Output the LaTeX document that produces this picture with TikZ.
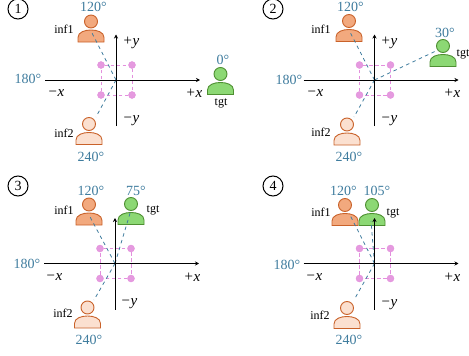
\documentclass[tikz,border=0pt]{standalone}
\usepackage{fontspec}
\setmainfont{Liberation Serif}
\usetikzlibrary{arrows.meta}
\definecolor{angc}{HTML}{3F7C9E}
\definecolor{infa}{HTML}{F2A97E}
\definecolor{infb}{HTML}{FBE0D0}
\definecolor{infs}{HTML}{C9622A}
\definecolor{tgtf}{HTML}{8CD874}
\definecolor{tgts}{HTML}{4E8F32}
\definecolor{magf}{HTML}{E59ADF}
\definecolor{magd}{HTML}{E38FDD}
\tikzset{
  x=1pt,y=-1pt,
  ang/.style={text=angc,font=\fontsize{14}{14}\selectfont,inner sep=0pt},
  lab/.style={text=black,font=\fontsize{12}{12}\selectfont,inner sep=0pt},
  axl/.style={text=black,font=\fontsize{15}{15}\selectfont\itshape,inner sep=0pt},
  axis/.style={draw=black,line width=1pt,-{Stealth[length=4pt,width=4pt]}},
  conn/.style={draw=angc,line width=0.8pt,dash pattern=on 3.5pt off 3.5pt},
  sq/.style={draw=magd,line width=0.8pt,dash pattern=on 3.5pt off 2.5pt},
  dotn/.style={circle,fill=magf,draw=magd,line width=0.4pt,minimum size=7pt,inner sep=0pt},
  numb/.style={circle,draw=black,line width=1pt,minimum size=20pt,inner sep=0pt,font=\fontsize{14}{14}\selectfont},
}
% #1 name, #2 cx, #3 head cy, #4 fill, #5 stroke
\newcommand{\psn}[5]{%
  \draw[fill=#4,draw=#5,line width=0.9pt]
    ({#2-13},{#3+20.5}) -- ({#2-13},{#3+16}) .. controls ({#2-13},{#3+10.5}) and ({#2-6},{#3+8.5}) .. ({#2},{#3+8.5})
    .. controls ({#2+6},{#3+8.5}) and ({#2+13},{#3+10.5}) .. ({#2+13},{#3+16}) -- ({#2+13},{#3+20.5}) -- cycle;
  \node[circle,fill=#4,draw=#5,line width=0.9pt,minimum size=13pt,inner sep=0pt] (#1) at (#2,#3) {};
}
% #1 prefix, #2 ox, #3 oy
\newcommand{\axes}[4]{%
  \coordinate (#1o) at (#2,#3);
  \coordinate (#1xa) at ({#2-71},#3); \coordinate (#1xb) at ({#2+84},#3);
  \coordinate (#1ya) at (#2,{#3+46}); \coordinate (#1yb) at (#2,{#3-45.5});
  \node[dotn] (#1d1) at ({#2-15},{#3-15}) {};
  \node[dotn] (#1d2) at ({#2+16},{#3-15}) {};
  \node[dotn] (#1d3) at ({#2-15},{#3+15}) {};
  \node[dotn] (#1d4) at ({#2+16},{#3+15}) {};
  \draw[sq] (#1d1) -- (#1d2); \draw[sq] (#1d2) -- (#1d4);
  \draw[sq] (#1d4) -- (#1d3); \draw[sq] (#1d3) -- (#1d1);
}
\newcommand{\axl}[3]{\draw[axis] (#1xa) -- (#1xb); \draw[axis] (#1ya) -- (#1yb);}
\begin{document}
\begin{tikzpicture}
\useasboundingbox (0,0) rectangle (469,356);
% Panel 1
\node[numb] (n1) at (18,9) {1};
\axes{a}{116}{80}{}
\psn{ai}{91}{21.5}{infa}{infs}
\psn{aj}{89}{124}{infb}{infs}
\psn{at}{220.5}{74}{tgtf}{tgts}
\coordinate (aie) at (91,31); \coordinate (aje) at (96,117);
\draw[conn] (ao) -- (aie); \draw[conn] (ao) -- (aje);
\axl{a}{}{}
\node[ang] (a120) at (93.5,7) {120°};
\node[ang] (a180) at (28,79) {180°};
\node[ang] (a0) at (223,60) {0°};
\node[ang] (a240) at (91,157) {240°};
\node[lab] (al1) at (64,29) {inf1};
\node[lab] (al2) at (64,133) {inf2};
\node[lab] (al3) at (221,103) {tgt};
\node[axl] (apy) at (131,43) {+y};
\node[axl] (amy) at (131,121) {−y};
\node[axl] (amx) at (56,93) {−x};
\node[axl] (apx) at (194,93) {+x};
% Panel 2
\node[numb] (n2) at (273,9) {2};
\axes{b}{374.5}{80}{}
\psn{bi}{349}{21}{infa}{infs}
\psn{bj}{347}{124.5}{infb}{infs}
\psn{bt}{443}{46}{tgtf}{tgts}
\coordinate (bie) at (350,32); \coordinate (bje) at (354,117); \coordinate (bte) at (438,50);
\draw[conn] (bo) -- (bie); \draw[conn] (bo) -- (bje); \draw[conn] (bo) -- (bte);
\axl{b}{}{}
\node[ang] (b120) at (350.5,7) {120°};
\node[ang] (b180) at (289,80) {180°};
\node[ang] (b30) at (445,33) {30°};
\node[ang] (b240) at (349,157) {240°};
\node[lab] (bl1) at (321,29) {inf1};
\node[lab] (bl2) at (321,132) {inf2};
\node[lab] (bl3) at (463,54) {tgt};
\node[axl] (bpy) at (389,43) {+y};
\node[axl] (bmy) at (389,121) {−y};
\node[axl] (bmx) at (315,93) {−x};
\node[axl] (bpx) at (452,93) {+x};
% Panel 3
\node[numb] (n3) at (18,186) {3};
\axes{c}{115}{263.5}{}
\psn{ci}{89}{204.5}{infa}{infs}
\psn{cj}{87.5}{307.5}{infb}{infs}
\psn{ct}{131}{204}{tgtf}{tgts}
\coordinate (cie) at (89,215); \coordinate (cje) at (94,300); \coordinate (cte) at (131,210);
\draw[conn] (co) -- (cie); \draw[conn] (co) -- (cje); \draw[conn] (co) -- (cte);
\axl{c}{}{}
\node[ang] (c120) at (91,191) {120°};
\node[ang] (c75) at (136,191) {75°};
\node[ang] (c180) at (27,264) {180°};
\node[ang] (c240) at (89,340) {240°};
\node[lab] (cl1) at (64,210) {inf1};
\node[lab] (cl2) at (63,313) {inf2};
\node[lab] (cl3) at (153,210) {tgt};
\node[axl] (cmy) at (129,304) {−y};
\node[axl] (cmx) at (54,277) {−x};
\node[axl] (cpx) at (192,277) {+x};
% Panel 4
\node[numb] (n4) at (273,186) {4};
\axes{d}{374.5}{263.5}{}
\psn{di}{345}{205}{infa}{infs}
\psn{dj}{347}{308}{infb}{infs}
\psn{dt}{372}{205}{tgtf}{tgts}
\coordinate (die) at (350,215); \coordinate (dje) at (354,300); \coordinate (dte) at (371,221);
\draw[conn] (do) -- (die); \draw[conn] (do) -- (dje); \draw[conn] (do) -- (dte);
\axl{d}{}{}
\node[ang] (d120) at (343.5,191) {120°};
\node[ang] (d105) at (377,191) {105°};
\node[ang] (d180) at (287,265) {180°};
\node[ang] (d240) at (349,340) {240°};
\node[lab] (dl1) at (321,212) {inf1};
\node[lab] (dl2) at (320,315) {inf2};
\node[lab] (dl3) at (393,213) {tgt};
\node[axl] (dmy) at (389,305) {−y};
\node[axl] (dmx) at (314,277) {−x};
\node[axl] (dpx) at (452,277) {+x};
\end{tikzpicture}
\end{document}
